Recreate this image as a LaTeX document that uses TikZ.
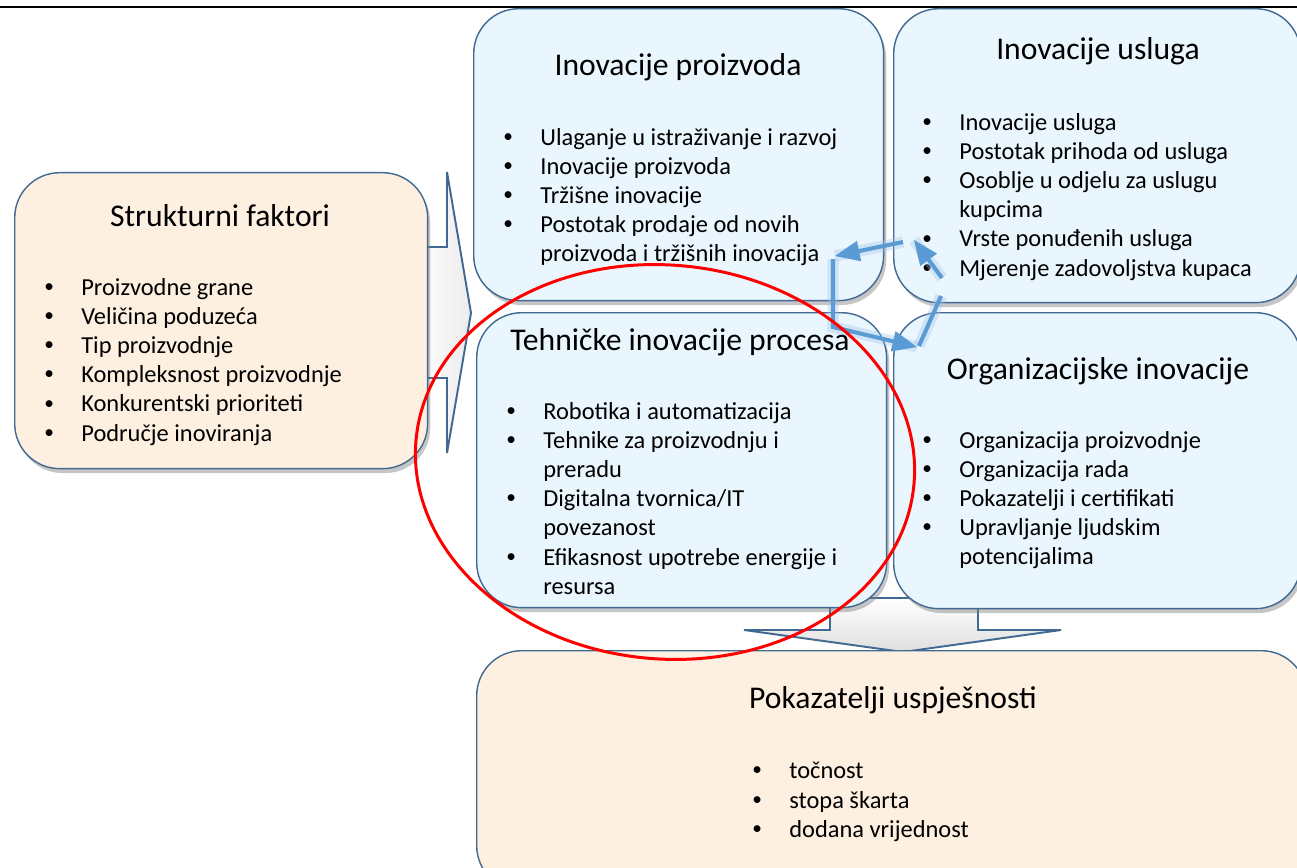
\documentclass[tikz,border=0pt]{standalone}
\usepackage{fontspec}
\setmainfont{Carlito}
\usepackage{tikz}
\usetikzlibrary{arrows, shadows}

\definecolor{okvir}{RGB}{65,105,145}
\definecolor{plava}{RGB}{234,246,253}
\definecolor{breskva}{RGB}{253,240,225}
\definecolor{ciklus}{RGB}{91,155,213}

\newcommand{\stavka}[1]{\makebox[0.68cm][l]{\hspace*{-0.06cm}\raisebox{0.25ex}{\fontsize{11}{13}\selectfont\textbullet}}#1}
\newcommand{\dalje}[1]{\hspace*{0.68cm}#1}

\begin{document}
\begin{tikzpicture}[x=0.02cm, y=-0.02cm, >=triangle 45,
    kutija/.style={draw=okvir, line width=0.8pt, rounded corners=0.9cm, anchor=north west, inner sep=0pt,
      drop shadow={shadow xshift=1.5pt, shadow yshift=-2.5pt, opacity=0.45}},
    plavi/.style={kutija, fill=plava},
    bres/.style={kutija, fill=breskva},
    naslov/.style={font=\fontsize{18}{21}\selectfont, inner sep=0pt},
    popis/.style={font=\fontsize{13.9}{16.6}\selectfont, align=left, anchor=north west, inner sep=0pt},
    strelica/.style={draw=okvir, line width=1.1pt},
    krug/.style={->, ciklus, line width=2.3pt, preaction={draw, -, ciklus!60, opacity=0.35, line width=6.5pt}}]
    \useasboundingbox (0,0) rectangle (1297,868);
    \clip (0,0) rectangle (1297,868);
    \draw[line width=1pt] (0,7) -- (1297,7);

    \draw[strelica, left color=white, right color=gray!15] (415,247) -- (447,247) -- (447,172) -- (471,313) -- (447,453) -- (447,378) -- (415,378) -- cycle;
    \draw[strelica, top color=white, bottom color=gray!25] (830,598) -- (978,598) -- (978,630) -- (1061,630) -- (903,652) -- (744,630) -- (830,630) -- cycle;

    \node[bres, minimum width=8.26cm, minimum height=5.92cm] (sf) at (14,172) {};
    \node[plavi, minimum width=8.2cm, minimum height=5.84cm] (ip) at (473,8) {};
    \node[plavi, minimum width=8.14cm, minimum height=5.88cm] (iu) at (893,8) {};
    \node[plavi, minimum width=8.2cm, minimum height=5.9cm] (tp) at (476,312) {};
    \node[plavi, minimum width=8.14cm, minimum height=5.92cm] (oi) at (893,312) {};
    \node[bres, minimum width=16.6cm, minimum height=4.8cm] (pu) at (476,650) {};

    \node[naslov] (sf-n) at (220,216) {Strukturni faktori};
    \node[naslov] (ip-n) at (678,67) {Inovacije proizvoda};
    \node[naslov] (iu-n) at (1098,51) {Inovacije usluga};
    \node[naslov] (tp-n) at (680,342) {Tehničke inovacije procesa};
    \node[naslov] (oi-n) at (1098,371) {Organizacijske inovacije};
    \node[naslov] (pu-n) at (893,700) {Pokazatelji uspješnosti};

    \node[popis] (sf-p) at (47,278) {\stavka{Proizvodne grane}\\ \stavka{Veličina poduzeća}\\ \stavka{Tip proizvodnje}\\
      \stavka{Kompleksnost proizvodnje}\\ \stavka{Konkurentski prioriteti}\\ \stavka{Područje inoviranja}};
    \node[popis] (ip-p) at (506,128) {\stavka{Ulaganje u istraživanje i razvoj}\\ \stavka{Inovacije proizvoda}\\
      \stavka{Tržišne inovacije}\\ \stavka{Postotak prodaje od novih}\\ \dalje{proizvoda i tržišnih inovacija}};
    \node[popis] (iu-p) at (925,113) {\stavka{Inovacije usluga}\\ \stavka{Postotak prihoda od usluga}\\
      \stavka{Osoblje u odjelu za uslugu}\\ \dalje{kupcima}\\ \stavka{Vrste ponuđenih usluga}\\ \stavka{Mjerenje zadovoljstva kupaca}};
    \node[popis] (tp-p) at (509,402) {\stavka{Robotika i automatizacija}\\ \stavka{Tehnike za proizvodnju i}\\ \dalje{preradu}\\
      \stavka{Digitalna tvornica/IT}\\ \dalje{povezanost}\\ \stavka{Efikasnost upotrebe energije i}\\ \dalje{resursa}};
    \node[popis] (oi-p) at (925,431) {\stavka{Organizacija proizvodnje}\\ \stavka{Organizacija rada}\\
      \stavka{Pokazatelji i certifikati}\\ \stavka{Upravljanje ljudskim}\\ \dalje{potencijalima}};
    \node[popis] (pu-p) at (755,762) {\stavka{točnost}\\ \stavka{stopa škarta}\\ \stavka{dodana vrijednost}};

    \coordinate (k1) at (942,278);
    \coordinate (k2) at (914,240);
    \coordinate (k3) at (903,242);
    \coordinate (k4) at (835,256);
    \coordinate (k5) at (833,259);
    \coordinate (k6) at (833,327);
    \coordinate (k7) at (917,347);
    \coordinate (k8) at (919,346);
    \coordinate (k9) at (941,296);
    \draw[krug] (k1) -- (k2);
    \draw[krug] (k3) -- (k4);
    \draw[krug] (k5) -- (k6) -- (k7);
    \draw[krug, -] (k8) -- (k9);

    \draw[red, line width=1.7pt, rotate around={-5:(665,462)}] (665,462) ellipse [x radius=5cm, y radius=3.94cm];
\end{tikzpicture}
\end{document}
